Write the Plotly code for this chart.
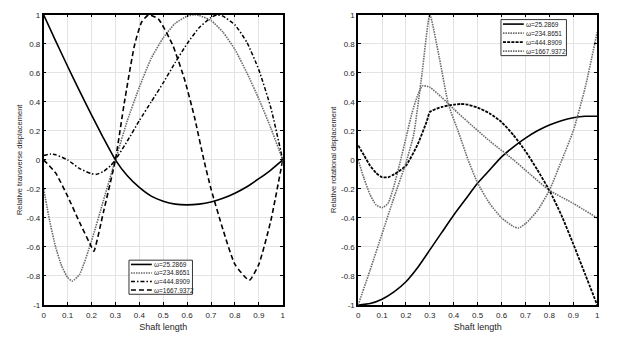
import plotly.graph_objects as go

# ---------------- data ----------------
freq_labels = ["25.2869", "234.8651", "444.8909", "1667.9372"]

x_ticks = [0, 0.1, 0.2, 0.3, 0.4, 0.5, 0.6, 0.7, 0.8, 0.9, 1]
x_ticktext = ["0", "0.1", "0.2", "0.3", "0.4", "0.5", "0.6", "0.7", "0.8", "0.9", "1"]
y_ticks = [-1, -0.8, -0.6, -0.4, -0.2, 0, 0.2, 0.4, 0.6, 0.8, 1]
y_ticktext = ["-1", "-0.8", "-0.6", "-0.4", "-0.2", "0", "0.2", "0.4", "0.6", "0.8", "1"]

# Transverse displacement (left panel)
xt_25 = [0, 0.05, 0.1, 0.15, 0.2, 0.25, 0.3, 0.35, 0.4, 0.45, 0.5, 0.55, 0.6, 0.65, 0.7, 0.75, 0.8, 0.85, 0.9, 0.95, 1.0]
yt_25 = [1.0, 0.82, 0.645, 0.475, 0.31, 0.15, 0.0, -0.11, -0.19, -0.25, -0.285, -0.305, -0.31, -0.305, -0.29, -0.265, -0.23, -0.185, -0.13, -0.07, 0.0]

xt_234 = [0, 0.025, 0.05, 0.075, 0.1, 0.12, 0.15, 0.2, 0.25, 0.3, 0.35, 0.4, 0.45, 0.5, 0.55, 0.6, 0.63, 0.65, 0.7, 0.75, 0.8, 0.85, 0.9, 0.95, 1.0]
yt_234 = [-0.2, -0.42, -0.6, -0.73, -0.81, -0.835, -0.79, -0.56, -0.28, 0.0, 0.27, 0.5, 0.7, 0.84, 0.94, 0.99, 1.0, 0.995, 0.96, 0.88, 0.76, 0.6, 0.42, 0.22, 0.0]

xt_444 = [0, 0.03, 0.05, 0.1, 0.15, 0.2, 0.22, 0.25, 0.28, 0.3, 0.35, 0.4, 0.45, 0.5, 0.55, 0.6, 0.65, 0.7, 0.725, 0.75, 0.8, 0.85, 0.9, 0.95, 1.0]
yt_444 = [0.03, 0.04, 0.035, 0.0, -0.06, -0.095, -0.10, -0.08, -0.04, 0.0, 0.13, 0.27, 0.40, 0.53, 0.67, 0.80, 0.91, 0.98, 1.0, 0.99, 0.93, 0.81, 0.62, 0.36, 0.0]

xt_1667 = [0, 0.05, 0.1, 0.15, 0.2, 0.21, 0.25, 0.3, 0.337, 0.38, 0.41, 0.44, 0.48, 0.54, 0.59, 0.63, 0.67, 0.7, 0.75, 0.8, 0.86, 0.9, 0.95, 1.0]
yt_1667 = [0.0, -0.09, -0.25, -0.43, -0.60, -0.63, -0.36, 0.0, 0.39, 0.79, 0.95, 1.0, 0.97, 0.79, 0.55, 0.30, 0.0, -0.2, -0.48, -0.72, -0.83, -0.72, -0.42, 0.0]

# Rotational displacement (right panel)
xr_25 = [0, 0.05, 0.1, 0.15, 0.2, 0.25, 0.3, 0.35, 0.4, 0.45, 0.5, 0.55, 0.6, 0.65, 0.7, 0.75, 0.8, 0.85, 0.9, 0.95, 1.0]
yr_25 = [-1.0, -0.99, -0.96, -0.91, -0.84, -0.74, -0.62, -0.50, -0.38, -0.27, -0.16, -0.07, 0.02, 0.09, 0.15, 0.20, 0.24, 0.27, 0.29, 0.30, 0.30]

xr_234 = [0, 0.025, 0.05, 0.075, 0.1, 0.125, 0.15, 0.175, 0.2, 0.225, 0.25, 0.27, 0.3, 0.35, 0.4, 0.46, 0.55, 0.65, 0.72, 0.8, 0.9, 1.0]
yr_234 = [0.0, -0.13, -0.24, -0.31, -0.33, -0.30, -0.18, -0.02, 0.15, 0.32, 0.45, 0.51, 0.50, 0.43, 0.35, 0.26, 0.13, 0.0, -0.1, -0.21, -0.30, -0.40]

xr_444 = [0, 0.025, 0.05, 0.075, 0.1, 0.125, 0.15, 0.2, 0.25, 0.288, 0.3, 0.35, 0.4, 0.43, 0.46, 0.5, 0.55, 0.6, 0.65, 0.7, 0.75, 0.8, 0.85, 0.9, 0.95, 1.0]
yr_444 = [0.10, 0.03, -0.04, -0.09, -0.12, -0.12, -0.10, -0.04, 0.11, 0.27, 0.33, 0.365, 0.38, 0.385, 0.38, 0.36, 0.32, 0.26, 0.17, 0.06, -0.07, -0.21, -0.38, -0.58, -0.79, -1.0]

xr_1667 = [0, 0.05, 0.1, 0.15, 0.2, 0.232, 0.267, 0.3, 0.34, 0.378, 0.42, 0.46, 0.5, 0.55, 0.6, 0.65, 0.67, 0.7, 0.75, 0.8, 0.85, 0.9, 0.95, 1.0]
yr_1667 = [-1.0, -0.76, -0.51, -0.26, -0.02, 0.17, 0.59, 1.0, 0.70, 0.38, 0.19, 0.0, -0.16, -0.30, -0.40, -0.46, -0.47, -0.44, -0.35, -0.21, -0.01, 0.20, 0.50, 0.88]

# ---------------- styles ----------------
FONT = "Liberation Sans, Arial, sans-serif"
GRAYDOT = dict(color="#6a6a6a", width=1.6, dash="1.5px,1px")
left_styles = [
    dict(color="black", width=1.6, dash="solid"),
    GRAYDOT,
    dict(color="black", width=1.5, dash="4px,2px,1.5px,2px"),
    dict(color="black", width=1.6, dash="5px,3px"),
]
right_styles = [
    dict(color="black", width=1.6, dash="solid"),
    GRAYDOT,
    dict(color="black", width=1.8, dash="3px,1.2px"),
    GRAYDOT,
]

left_data = [(xt_25, yt_25), (xt_234, yt_234), (xt_444, yt_444), (xt_1667, yt_1667)]
right_data = [(xr_25, yr_25), (xr_234, yr_234), (xr_444, yr_444), (xr_1667, yr_1667)]

W, H = 625, 347
fig = go.Figure()

for (xs, ys), st, lab in zip(left_data, left_styles, freq_labels):
    fig.add_trace(go.Scatter(x=xs, y=ys, mode="lines", name="ω=" + lab,
                             line=dict(shape="spline", smoothing=0.5, **st),
                             xaxis="x", yaxis="y", showlegend=False))
for (xs, ys), st, lab in zip(right_data, right_styles, freq_labels):
    fig.add_trace(go.Scatter(x=xs, y=ys, mode="lines", name="ω=" + lab,
                             line=dict(shape="spline", smoothing=0.5, **st),
                             xaxis="x2", yaxis="y2", showlegend=False))

def px_x(p):
    return p / W

def px_y(p):
    return 1 - p / H

axis_common = dict(
    showgrid=True, gridcolor="#e3e3e3", gridwidth=1,
    showline=True, linecolor="black", linewidth=1.5, mirror="ticks",
    ticks="inside", ticklen=3, tickwidth=1, tickcolor="black",
    zeroline=False, tickfont=dict(family=FONT, size=8, color="#262626"),
)
xaxis_extra = dict(ticklabelstandoff=2)

ydom = [px_y(309), px_y(11)]
fig.update_layout(
    width=W, height=H,
    margin=dict(l=0, r=0, t=0, b=0),
    paper_bgcolor="white", plot_bgcolor="white",
    showlegend=False,
    xaxis=dict(domain=[px_x(42), px_x(283)], range=[0, 1], anchor="y",
               tickvals=x_ticks, ticktext=x_ticktext,
               title=dict(text="Shaft length", font=dict(family=FONT, size=9, color="#262626"), standoff=4),
               **axis_common, **xaxis_extra),
    yaxis=dict(domain=ydom, range=[-1, 1], anchor="x",
               tickvals=y_ticks, ticktext=y_ticktext,
               title=dict(text="Relative transverse displacement", font=dict(family=FONT, size=7.5, color="#262626"), standoff=3),
               **axis_common),
    xaxis2=dict(domain=[px_x(359), px_x(600)], range=[0, 1], anchor="y2",
                tickvals=x_ticks, ticktext=x_ticktext,
                title=dict(text="Shaft length", font=dict(family=FONT, size=9, color="#262626"), standoff=4),
                **axis_common, **xaxis_extra),
    yaxis2=dict(domain=ydom, range=[-1, 1], anchor="x2",
                tickvals=y_ticks, ticktext=y_ticktext,
                title=dict(text="Relative rotational displacement", font=dict(family=FONT, size=7.5, color="#262626"), standoff=3),
                **axis_common),
)

# ---------------- legends (compact, MATLAB-like boxes) ----------------
def add_legend(box, styles, labels):
    x0, y0, x1, y1 = box  # pixels
    fig.add_shape(type="rect", xref="paper", yref="paper",
                  x0=px_x(x0), x1=px_x(x1), y0=px_y(y0), y1=px_y(y1),
                  line=dict(color="#333333", width=1), fillcolor="white", layer="above")
    n = len(labels)
    step = (y1 - y0) / n
    for i, (st, lab) in enumerate(zip(styles, labels)):
        yc = y0 + step * (i + 0.5)
        fig.add_shape(type="line", xref="paper", yref="paper",
                      x0=px_x(x0 + 2), x1=px_x(x0 + 23), y0=px_y(yc), y1=px_y(yc),
                      line=dict(color=st["color"], width=st["width"], dash=st["dash"]), layer="above")
        fig.add_annotation(xref="paper", yref="paper", x=px_x(x0 + 23), y=px_y(yc),
                           xanchor="left", yanchor="middle", showarrow=False,
                           text="ω=" + lab,
                           font=dict(family=FONT, size=6.5, color="#222222"))

add_legend((128, 263, 192, 298), left_styles, freq_labels)
add_legend((503, 16, 569, 53), right_styles, freq_labels)

fig.write_html("out.html")
